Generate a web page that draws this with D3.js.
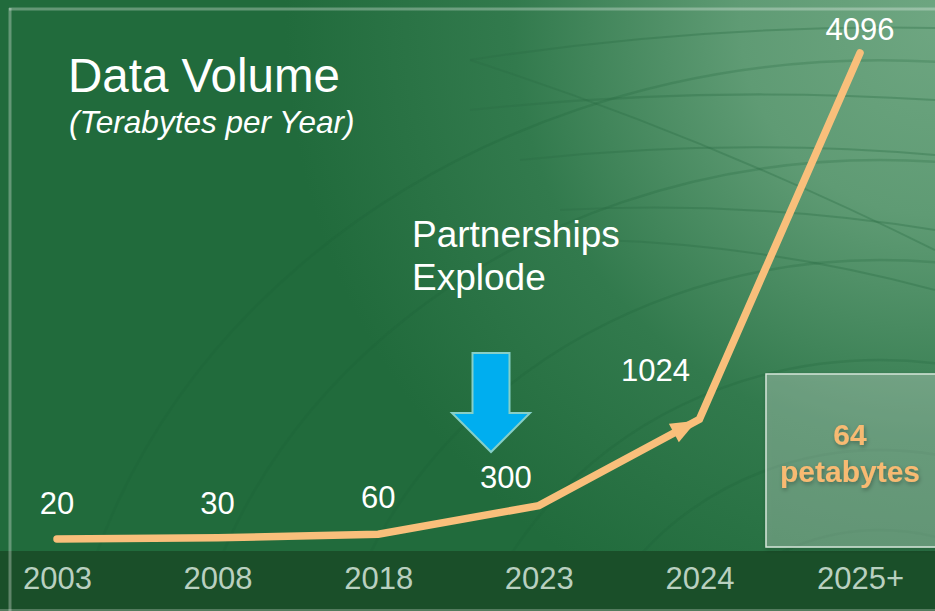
<!DOCTYPE html>
<html>
<head>
<meta charset="utf-8">
<script src="https://cdn.jsdelivr.net/npm/d3@7"></script>
<style>
html,body{margin:0;padding:0;background:#216b3c;overflow:hidden;}
svg{display:block;font-family:"Liberation Sans",Arial,sans-serif;}
</style>
</head>
<body>
<svg id="chart" width="935" height="611"></svg>
<script>
// ---- data ----
const categories = ["2003", "2008", "2018", "2023", "2024", "2025+"];
const values = [20, 30, 60, 300, 1024, 4096];
const valueLabels = ["20", "30", "60", "300", "1024", "4096"];
const yDomain = [0, 4096];

// ---- layout ----
const W = 935, H = 611;
const bandTop = 551;
const labelOffsets = [[0, -25], [0, -24], [0, -26], [-33, -18], [-44, -38], [0, -13]];
const lineColor = "#F9BF7B";

const svg = d3.select("#chart");
const defs = svg.append("defs");

// background gradient
const rg = defs.append("radialGradient").attr("id", "bg")
  .attr("gradientUnits", "userSpaceOnUse")
  .attr("cx", 935).attr("cy", 20).attr("r", 650)
  .attr("fx", 935).attr("fy", 20);
rg.append("stop").attr("offset", 0).attr("stop-color", "#6ea681");
rg.append("stop").attr("offset", 0.3).attr("stop-color", "#5f9b74");
rg.append("stop").attr("offset", 0.65).attr("stop-color", "#327a4d");
rg.append("stop").attr("offset", 1).attr("stop-color", "#216b3c");
svg.append("rect").attr("width", W).attr("height", H).attr("fill", "#216b3c");
svg.append("rect").attr("width", W).attr("height", H).attr("fill", "url(#bg)");

// faint greenhouse arcs (decoration)
const deco = svg.append("g").attr("fill", "none").attr("stroke", "#1d5e35").attr("stroke-opacity", 0.22).attr("stroke-width", 2.5);
[[880, 760, 820, 700], [880, 760, 700, 600], [880, 760, 560, 500], [880, 760, 430, 400], [880, 760, 320, 310], [880, 760, 230, 230]].forEach(([cx, cy, rx, ry]) => {
  deco.append("path").attr("d", `M${cx - rx},${cy} A${rx},${ry} 0 0 1 ${cx + rx},${cy}`);
});
const deco2 = svg.append("g").attr("fill", "none").attr("stroke", "#2b6e44").attr("stroke-opacity", 0.35).attr("stroke-width", 2);
[[470, 60, 935, 28], [470, 110, 935, 100], [520, 160, 935, 155], [560, 210, 935, 230], [600, 240, 935, 290], [470, 60, 935, 250]].forEach(([x1, y1, x2, y2]) => {
  deco2.append("path").attr("d", `M${x1},${y1} Q${(x1 + x2) / 2},${(y1 + y2) / 2 - 20} ${x2},${y2}`);
});

// axis band
svg.append("rect").attr("x", 0).attr("y", bandTop).attr("width", W).attr("height", H - bandTop).attr("fill", "#1a4f29");

// frame lines
svg.append("line").attr("x1", 9).attr("x2", W).attr("y1", 9).attr("y2", 9)
  .attr("stroke", "#ffffff").attr("stroke-opacity", 0.3).attr("stroke-width", 3);
svg.append("line").attr("x1", 10).attr("x2", 10).attr("y1", 8).attr("y2", H)
  .attr("stroke", "#ffffff").attr("stroke-opacity", 0.3).attr("stroke-width", 3);
svg.append("line").attr("x1", 0).attr("x2", W).attr("y1", 610).attr("y2", 610)
  .attr("stroke", "#ffffff").attr("stroke-opacity", 0.25).attr("stroke-width", 2);

// scales
const x = d3.scalePoint().domain(categories).range([57, 860]);
const y = d3.scaleLinear().domain(yDomain).range([541.4, 53]);

// axis
const axis = svg.append("g").attr("transform", `translate(0,${bandTop})`)
  .call(d3.axisBottom(x).tickSize(0).tickPadding(16));
axis.select(".domain").remove();
axis.selectAll("text").attr("font-size", 31).attr("fill", "#b9d0c0")
  .attr("font-family", "Liberation Sans, Arial, sans-serif");

// titles
svg.append("text").attr("x", 68).attr("y", 92).attr("font-size", 47.5).attr("fill", "#ffffff").text("Data Volume");
svg.append("text").attr("x", 69).attr("y", 133).attr("font-size", 31.5).attr("font-style", "italic").attr("fill", "#ffffff").text("(Terabytes per Year)");
const pe = svg.append("text").attr("x", 412).attr("font-size", 37).attr("fill", "#ffffff");
pe.append("tspan").attr("x", 412).attr("y", 247).text("Partnerships");
pe.append("tspan").attr("x", 412).attr("y", 290).text("Explode");

// blue arrow
const bx = 491, shaftW = 37, headW = 78, topY = 353, headY = 413, tipY = 452;
svg.append("path")
  .attr("d", `M${bx - shaftW / 2},${topY} L${bx + shaftW / 2},${topY} L${bx + shaftW / 2},${headY} L${bx + headW / 2},${headY} L${bx},${tipY} L${bx - headW / 2},${headY} L${bx - shaftW / 2},${headY} Z`)
  .attr("fill", "#00aeef").attr("stroke", "#86cfc7").attr("stroke-width", 2).attr("stroke-linejoin", "miter");

// 64 petabytes box
const shadow = defs.append("filter").attr("id", "sh").attr("x", "-20%").attr("y", "-20%").attr("width", "140%").attr("height", "140%");
shadow.append("feDropShadow").attr("dx", 1).attr("dy", 2).attr("stdDeviation", 2).attr("flood-color", "#000").attr("flood-opacity", 0.3);
svg.append("rect").attr("x", 766).attr("y", 374).attr("width", 180).attr("height", 173)
  .attr("fill", "#ffffff").attr("fill-opacity", 0.24)
  .attr("stroke", "#d6e6da").attr("stroke-width", 1.5).attr("filter", "url(#sh)");
const bt = svg.append("text").attr("text-anchor", "middle").attr("font-size", 30).attr("font-weight", "bold")
  .attr("fill", "#F8BA72").attr("filter", "url(#sh)");
bt.append("tspan").attr("x", 850).attr("y", 445).text("64");
bt.append("tspan").attr("x", 850).attr("y", 482).text("petabytes");

// line
const pts = categories.map((c, i) => [x(c), y(values[i])]);
svg.append("path").datum(pts)
  .attr("d", d3.line())
  .attr("fill", "none").attr("stroke", lineColor).attr("stroke-width", 7.5)
  .attr("stroke-linecap", "round").attr("stroke-linejoin", "miter");

// arrowhead at 2024 (end of 2023 -> 2024 segment)
{
  const [ax, ay] = pts[3], [tx, ty] = pts[4];
  const len = Math.hypot(tx - ax, ty - ay), ux = (tx - ax) / len, uy = (ty - ay) / len;
  const tipX = tx - ux * 3, tipY2 = ty - uy * 3;
  const bxc = tipX - ux * 26, byc = tipY2 - uy * 26, hw = 10.5;
  svg.append("path")
    .attr("d", `M${tipX},${tipY2} L${bxc - uy * hw},${byc + ux * hw} L${bxc + uy * hw},${byc - ux * hw} Z`)
    .attr("fill", lineColor);
}

// value labels
svg.append("g").selectAll("text").data(values).join("text")
  .attr("x", (d, i) => x(categories[i]) + labelOffsets[i][0])
  .attr("y", (d, i) => y(d) + labelOffsets[i][1])
  .attr("text-anchor", "middle").attr("font-size", 31).attr("fill", "#ffffff")
  .text((d, i) => valueLabels[i]);
</script>
</body>
</html>
